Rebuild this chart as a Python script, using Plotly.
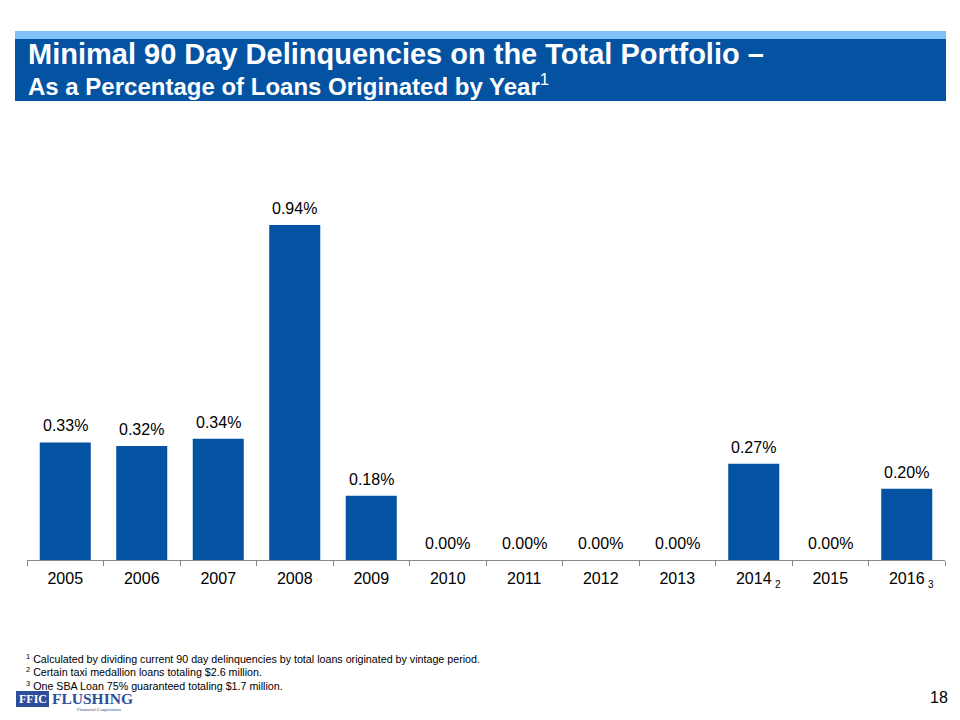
import plotly.graph_objects as go

years = ["2005", "2006", "2007", "2008", "2009", "2010", "2011", "2012", "2013", "2014", "2015", "2016"]
values = [0.33, 0.32, 0.34, 0.94, 0.18, 0.00, 0.00, 0.00, 0.00, 0.27, 0.00, 0.20]
labels = ["0.33%", "0.32%", "0.34%", "0.94%", "0.18%", "0.00%", "0.00%", "0.00%", "0.00%", "0.27%", "0.00%", "0.20%"]
year_notes = {"2014": "2", "2016": "3"}
footnotes = [
    ("1", "Calculated by dividing current 90 day delinquencies by total loans originated by vintage period."),
    ("2", "Certain taxi medallion loans totaling $2.6 million."),
    ("3", "One SBA Loan 75% guaranteed totaling $1.7 million."),
]

BLUE = "#0453A3"
FONT = "Liberation Sans, Arial, sans-serif"
SERIF = "Liberation Serif, Times New Roman, serif"

fig = go.Figure()
fig.add_trace(go.Bar(
    x=years, y=values, marker=dict(color=BLUE, line=dict(width=0)),
    width=0.667, hoverinfo="skip",
))

# value labels (category index positions)
for i, (v, lab) in enumerate(zip(values, labels)):
    fig.add_annotation(x=i, y=v, text=lab, showarrow=False, xref="x", yref="y",
                       yanchor="bottom", yshift=6,
                       font=dict(family=FONT, size=16, color="#000000"))

# footnote markers on tick labels
for yr, n in year_notes.items():
    fig.add_annotation(x=years.index(yr), y=0, xref="x", yref="y", text=n, showarrow=False,
                       xanchor="left", yanchor="top", xshift=19, yshift=-17,
                       font=dict(family=FONT, size=10, color="#000000"))

shapes = []
# header band
shapes.append(dict(type="rect", xref="paper", yref="paper", x0=15/960, x1=946/960,
                   y0=1-39/720, y1=1-31/720, fillcolor="#80C1FA", line=dict(width=0), layer="below"))
shapes.append(dict(type="rect", xref="paper", yref="paper", x0=15/960, x1=946/960,
                   y0=1-101/720, y1=1-39/720, fillcolor=BLUE, line=dict(width=0), layer="below"))
# logo box
shapes.append(dict(type="rect", xref="paper", yref="paper", x0=16/960, x1=49/960,
                   y0=1-707/720, y1=1-691/720, fillcolor="#2E4E9A", line=dict(width=0)))

fig.add_annotation(xref="paper", yref="paper", x=26/960, y=1-54/720, xanchor="left", yanchor="middle",
                   text="<b>Minimal 90 Day Delinquencies on the Total Portfolio –</b>", showarrow=False,
                   font=dict(family=FONT, size=29, color="white"))
fig.add_annotation(xref="paper", yref="paper", x=26/960, y=1-85/720, xanchor="left", yanchor="middle",
                   text="<b>As a Percentage of Loans Originated by Year</b><sup>1</sup>", showarrow=False,
                   font=dict(family=FONT, size=24, color="white"))

for i, (n, t) in enumerate(footnotes):
    fig.add_annotation(xref="paper", yref="paper", x=24/960, y=1-(658+13.5*i)/720,
                       xanchor="left", yanchor="middle", showarrow=False,
                       text=f"<sup>{n}</sup> {t}", font=dict(family=FONT, size=10.7, color="#000000"))

# logo text
fig.add_annotation(xref="paper", yref="paper", x=32.5/960, y=1-699/720, xanchor="center", yanchor="middle",
                   showarrow=False, text="<b>FFIC</b>",
                   font=dict(family=SERIF, size=12, color="white"))
fig.add_annotation(xref="paper", yref="paper", x=50/960, y=1-698.5/720, xanchor="left", yanchor="middle",
                   showarrow=False, text="<b>FLUSHING</b>",
                   font=dict(family=SERIF, size=15.5, color="#2E4E9A"))
fig.add_annotation(xref="paper", yref="paper", x=124/960, y=1-709/720, xanchor="right", yanchor="middle",
                   showarrow=False, text="Financial Corporation",
                   font=dict(family=SERIF, size=5, color="#2E4E9A"))

fig.add_annotation(xref="paper", yref="paper", x=950/960, y=1-697/720, xanchor="right", yanchor="middle",
                   showarrow=False, text="18", font=dict(family=FONT, size=16, color="#000000"))

fig.update_layout(
    width=960, height=720, margin=dict(l=0, r=0, t=0, b=0),
    paper_bgcolor="white", plot_bgcolor="white", showlegend=False,
    shapes=shapes, bargap=0.333,
    xaxis=dict(domain=[27/960, 945/960], type="category", range=[-0.5, len(years) - 0.5],
               categoryorder="array", categoryarray=years,
               showline=True, linecolor="#888888", linewidth=1,
               ticks="outside", tickson="boundaries", ticklen=5, tickcolor="#888888",
               ticklabelstandoff=4,
               tickfont=dict(family=FONT, size=16, color="#000000"), showgrid=False, fixedrange=True),
    yaxis=dict(domain=[1-560/720, 1-203.6/720], range=[0, 1], visible=False, showgrid=False, fixedrange=True),
)

fig.write_html("out.html")
